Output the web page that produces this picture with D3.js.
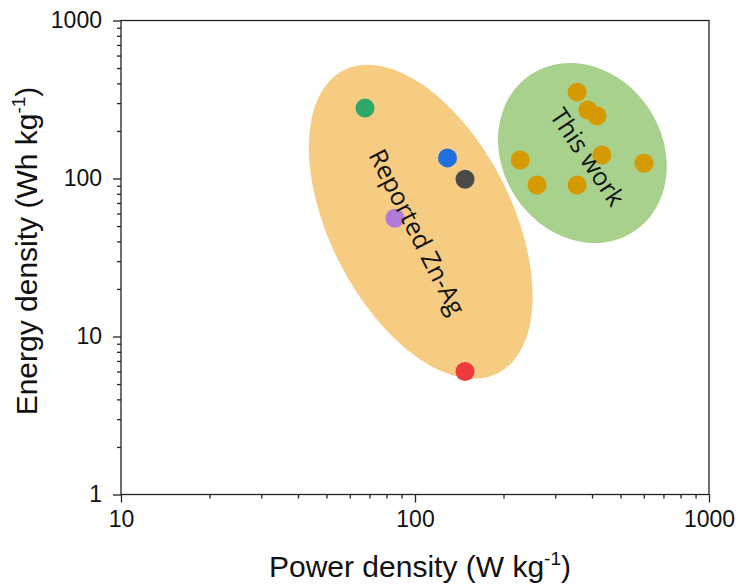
<!DOCTYPE html>
<html><head><meta charset="utf-8">
<script src="https://cdn.jsdelivr.net/npm/d3@7"></script>
<style>body{margin:0;background:#fff}</style>
</head><body>
<svg id="c" width="739" height="588"></svg>
<script>
// Reported Zn-Ag batteries
const reportedPower  = [67.6, 129, 148, 85.5, 148];
const reportedEnergy = [279, 135, 99, 56, 6];
const reportedColors = ["#2ea868", "#1f6fe0", "#4a4a4a", "#b07ad8", "#ee3a3a"];
// This work
const workPower  = [356, 387, 416, 228, 260, 356, 432, 601];
const workEnergy = [352, 271, 249, 131, 91, 91, 141, 125];
const workColor = "#d49a00";
// Highlight ellipses: centre in data units
const ellipseX = [104.6, 371];
const ellipseY = [53.3, 145];
const ellipseColors = ["#f6cc82", "#a9d18e"];
const ellipseLabels = ["Reported Zn-Ag", "This work"];
const xTicks = [10, 100, 1000];
const yTicks = [1, 10, 100, 1000];

const svg = d3.select("#c");
const m = {l:121, r:30, t:20.5, b:93.5};
const W = 739, H = 588;
const x = d3.scaleLog().domain([10,1000]).range([m.l, W-m.r]);
const y = d3.scaleLog().domain([1,1000]).range([H-m.b, m.t]);

// ellipses (geometry in px relative to centre)
const eGeom = [{rx:91, ry:170, rot:-27}, {rx:80, ry:94, rot:-33}];
const g = svg.append("g");
ellipseX.forEach((cx,i)=>{
  g.append("ellipse")
   .attr("transform", `translate(${x(cx)},${y(ellipseY[i])}) rotate(${eGeom[i].rot})`)
   .attr("rx", eGeom[i].rx).attr("ry", eGeom[i].ry)
   .attr("fill", ellipseColors[i]);
});

// points
reportedPower.forEach((p,i)=>{
  svg.append("circle").attr("cx", x(p)).attr("cy", y(reportedEnergy[i]))
    .attr("r", 9.5).attr("fill", reportedColors[i]);
});
workPower.forEach((p,i)=>{
  svg.append("circle").attr("cx", x(p)).attr("cy", y(workEnergy[i]))
    .attr("r", 9.5).attr("fill", workColor);
});

// labels
const lab = [{px:417, py:232, a:63, fs:25}, {px:587.5, py:157, a:56, fs:25}];
ellipseLabels.forEach((t,i)=>{
  svg.append("text").attr("transform", `translate(${lab[i].px},${lab[i].py}) rotate(${lab[i].a})`)
    .attr("text-anchor","middle").attr("dy","0.35em")
    .style("font-family","'Open Sans', sans-serif").style("font-size", lab[i].fs+"px")
    .attr("fill","#111").text(t);
});

// frame
svg.append("rect").attr("x", m.l).attr("y", m.t).attr("width", W-m.r-m.l).attr("height", H-m.b-m.t)
  .attr("fill","none").attr("stroke","#222").attr("stroke-width",1.3);

function minors(dom){
  const out=[]; for(let d=dom[0]; d<dom[1]; d*=10){ for(let k=2;k<10;k++) out.push(d*k);} return out;
}
const font = "Arial, 'Liberation Sans', sans-serif";
// x axis
const xa = svg.append("g").attr("transform",`translate(0,${H-m.b})`);
xa.call(d3.axisBottom(x).tickValues(xTicks).tickFormat(d3.format("d")).tickSize(8).tickPadding(8));
xa.append("g").call(d3.axisBottom(x).tickValues(minors([10,1000])).tickFormat("").tickSize(4));
// y axis
const ya = svg.append("g").attr("transform",`translate(${m.l},0)`);
ya.call(d3.axisLeft(y).tickValues(yTicks).tickFormat(d3.format("d")).tickSize(8).tickPadding(11));
ya.append("g").call(d3.axisLeft(y).tickValues(minors([1,1000])).tickFormat("").tickSize(4));
svg.selectAll(".domain").remove();
svg.selectAll(".tick line").attr("stroke","#222").attr("stroke-width",1.3);
svg.selectAll(".tick text").style("font-family",font).style("font-size","23px").attr("fill","#111");

// titles
const xt = svg.append("text").attr("x", 420).attr("y", 577).attr("text-anchor","middle")
  .style("font-family",font).style("font-size","30px").attr("fill","#111");
xt.append("tspan").text("Power density (W kg");
xt.append("tspan").text("-1").style("font-size","19px").attr("dy",-12);
xt.append("tspan").text(")").attr("dy",12);

const yt = svg.append("text").attr("transform","translate(37,251) rotate(-90)").attr("text-anchor","middle")
  .style("font-family",font).style("font-size","30px").attr("fill","#111");
yt.append("tspan").text("Energy density (Wh kg");
yt.append("tspan").text("-1").style("font-size","19px").attr("dy",-12);
yt.append("tspan").text(")").attr("dy",12);
</script>
</body></html>
